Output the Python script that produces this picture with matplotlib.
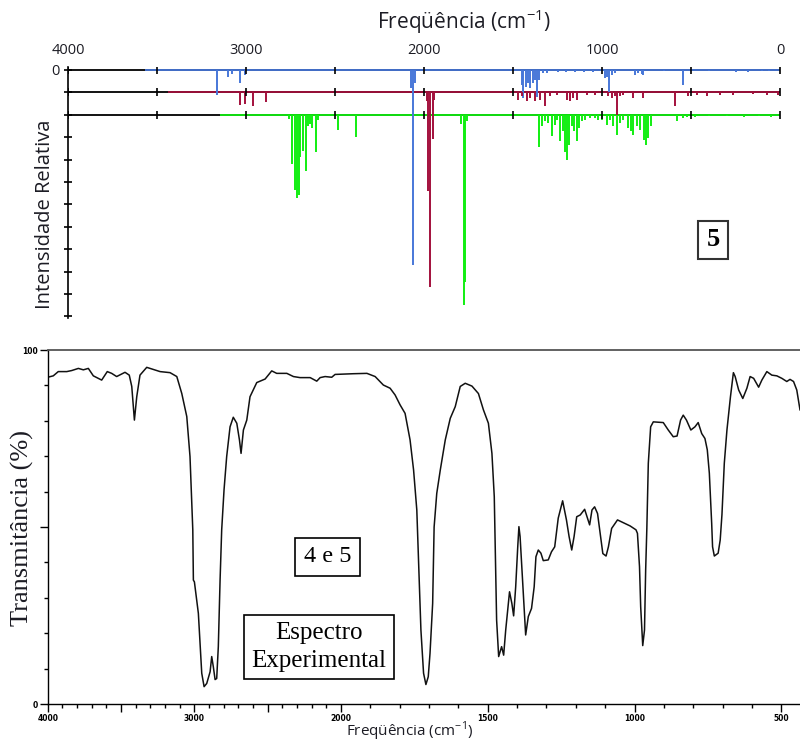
import numpy as np
import matplotlib.pyplot as plt
from matplotlib.ticker import FixedLocator, MultipleLocator

plt.rcParams['font.family'] = ['Open Sans', 'DejaVu Sans']
plt.rcParams['mathtext.fontset'] = 'custom'
plt.rcParams['mathtext.rm'] = 'Open Sans'
SERIF = 'Liberation Serif'
TXT = '#1c1c24'

# --- simulated spectra: stick positions (cm-1) and relative intensities ---
blue_start = 3568
blue_freq = [3165, 3101, 3079, 3034, 3006, 2075, 2060, 2048,
             1451, 1442, 1427, 1414, 1404, 1389, 1376, 1367, 1352, 1330, 1311,
             1250, 1200, 1150, 1100, 1050, 983, 974, 959, 945, 925,
             815, 800, 775, 768, 650, 543, 400, 250, 180, 100, 60]
blue_int = [1.12, 0.31, 0.18, 0.58, 0.22, 0.8, 8.7, 0.6,
            0.67, 1.26, 0.74, 0.6, 0.82, 0.6, 0.45, 1.19, 0.45, 0.15, 0.15,
            0.08, 0.08, 0.08, 0.1, 0.1, 0.37, 0.3, 0.97, 0.22, 0.15,
            0.22, 0.15, 0.2, 0.22, 0.05, 0.67, 0.05, 0.08, 0.08, 0.05, 0.06]

red_start = 3438
red_freq = [3034, 3006, 2961, 2888, 1985, 1975, 1966, 1952, 1945,
            1470, 1451, 1423, 1404, 1376, 1348, 1320, 1292, 1255, 1199, 1180,
            1161, 1142, 1086, 1039, 965, 945, 927, 917, 899, 880,
            824, 768, 590, 515, 468, 412, 337, 262, 150, 75, 10]
red_int = [0.58, 0.5, 0.62, 0.45, 0.4, 4.4, 8.7, 2.1, 0.35,
           0.33, 0.18, 0.4, 0.25, 0.4, 0.33, 0.63, 0.18, 0.1, 0.33, 0.4,
           0.25, 0.33, 0.1, 0.1, 0.18, 0.25, 0.18, 1.0, 0.18, 0.1,
           0.25, 0.25, 0.63, 0.18, 0.1, 0.18, 0.1, 0.1, 0.06, 0.1, 0.1]

green_start = 3146
green_freq = [2760, 2742, 2725, 2713, 2705, 2697, 2680, 2663, 2652, 2640, 2629,
              2607, 2596, 2483, 2382, 1790, 1775, 1770, 1760,
              1352, 1339, 1320, 1302, 1283, 1264, 1251, 1236, 1221, 1208, 1195,
              1184, 1170, 1157, 1142, 1129, 1114, 1096, 1067, 1039, 1021, 1002,
              974, 955, 936, 917, 899, 880, 852, 839, 824, 805, 787, 764, 753,
              740, 727, 579, 545, 520, 480, 400, 300, 200, 120, 50]
green_int = [0.2, 2.2, 3.35, 3.7, 3.6, 1.9, 1.6, 2.5, 0.5, 0.4, 0.6,
             1.65, 0.25, 0.67, 1.0, 0.4, 8.5, 7.45, 0.3,
             1.44, 0.52, 0.3, 0.37, 0.97, 0.45, 0.22, 1.19, 0.74, 1.64, 2.0,
             1.34, 0.52, 0.74, 1.19, 0.6, 0.3, 0.22, 0.15, 0.15, 0.22, 0.22,
             0.45, 0.22, 0.52, 0.89, 0.37, 0.22, 0.6, 0.74, 0.89, 0.52, 0.67, 1.12, 1.34,
             1.04, 0.52, 0.3, 0.15, 0.1, 0.08, 0.06, 0.05, 0.08, 0.05, 0.08]

# --- experimental IR spectrum: wavenumber (cm-1) vs transmittance (%) ---
exp_freq = [4000, 3962, 3928, 3870, 3836, 3791, 3757, 3723, 3689, 3632, 3594, 3564,
            3530, 3473, 3444, 3427, 3409, 3393, 3371, 3325, 3280, 3234, 3166, 3120,
            3086, 3052, 3030, 3018, 3011, 3007, 3000, 2973, 2950, 2934, 2916, 2893,
            2882, 2871, 2859, 2848, 2837, 2825, 2814, 2798, 2780, 2757, 2735, 2711,
            2693, 2682, 2666, 2643, 2621, 2575, 2518, 2473, 2439, 2370, 2325, 2280,
            2211, 2166, 2143, 2109, 2064, 2041, 1958, 1912, 1884, 1856, 1833, 1816,
            1799, 1782, 1765, 1753, 1742, 1728, 1719, 1711, 1703, 1697, 1688, 1683,
            1674, 1662, 1645, 1628, 1611, 1594, 1577, 1554, 1532, 1515, 1498, 1486,
            1478, 1470, 1463, 1453, 1446, 1439, 1431, 1426, 1418, 1412, 1405, 1398,
            1394, 1390, 1381, 1371, 1362, 1351, 1342, 1336, 1328, 1319, 1311, 1294,
            1283, 1272, 1260, 1245, 1232, 1223, 1214, 1206, 1197, 1185, 1170, 1162,
            1153, 1145, 1136, 1126, 1117, 1108, 1097, 1089, 1078, 1058, 1038, 1015,
            995, 990, 983, 979, 972, 966, 962, 958, 953, 945, 936, 902, 885, 868,
            855, 843, 834, 823, 808, 794, 783, 771, 760, 752, 745, 737, 734, 728,
            715, 708, 702, 694, 685, 673, 663, 657, 645, 631, 617, 606, 594, 577,
            566, 549, 532, 515, 498, 481, 470, 458, 447, 436]
exp_trans = [92.3, 92.7, 93.9, 93.9, 94.2, 94.8, 94.4, 94.8, 92.7, 91.5, 93.9, 93.4,
             92.5, 93.7, 92.9, 89.7, 80.2, 86.8, 92.9, 95.1, 94.5, 93.9, 93.6, 92.5,
             87.7, 81.2, 69.9, 56.8, 49.2, 35.0, 34.5, 25.6, 8.7, 4.9, 5.8, 9.1,
             13.4, 10.5, 6.9, 7.2, 16.2, 35.0, 49.2, 60.5, 69.9, 78.3, 81.0, 79.3,
             74.6, 70.8, 77.4, 80.2, 86.8, 90.8, 91.8, 94.1, 93.4, 93.4, 92.5, 92.2,
             92.2, 91.2, 92.2, 92.5, 92.3, 93.1, 93.3, 93.4, 92.5, 90.1, 89.2, 87.3,
             84.5, 82.1, 74.6, 66.1, 54.8, 20.9, 8.7, 5.5, 7.7, 14.3, 28.4, 50.0,
             59.5, 66.1, 74.6, 80.7, 84.0, 89.7, 90.6, 89.8, 87.7, 83.1, 79.3, 70.8,
             58.6, 23.7, 13.4, 16.2, 13.8, 20.9, 27.5, 31.7, 28.4, 24.9, 33.1, 44.4,
             50.1, 47.3, 34.0, 19.5, 24.7, 27.0, 33.1, 41.6, 43.5, 42.6, 40.5, 40.7,
             43.0, 44.4, 52.5, 57.4, 52.0, 47.3, 43.5, 47.3, 52.9, 53.4, 55.0, 52.9,
             50.6, 54.8, 55.7, 53.8, 48.2, 42.5, 41.8, 44.4, 49.6, 52.0, 51.2, 50.3,
             49.2, 48.2, 38.8, 27.5, 16.5, 20.9, 37.9, 49.6, 68.0, 78.3, 79.7, 79.5, 77.4, 75.5,
             75.7, 80.2, 81.6, 80.2, 77.4, 78.3, 79.5, 76.4, 75.0, 71.8, 65.2, 51.0, 44.4, 41.8,
             42.6, 46.3, 53.5, 68.0, 77.4, 86.8, 93.6, 92.5, 88.7, 86.3, 89.2, 92.5, 92.0, 89.5,
             91.5, 93.9, 92.9, 92.7, 92.0, 91.1, 91.7, 91.1, 88.7, 83.1]


def fwd(x):
    x = np.asarray(x, dtype=float)
    return np.where(x > 2000, 2000 + (x - 2000) / 2, x)


def inv(t):
    t = np.asarray(t, dtype=float)
    return np.where(t > 2000, 2000 + (t - 2000) * 2, t)


fig = plt.figure(figsize=(8, 7.44), dpi=100)

# ---------------- top: simulated spectra ----------------
ax1 = fig.add_axes([0.085, 0.5723, 0.89, 0.3382])
ax1.set_xlim(4000, 0)
ax1.set_ylim(-11.08, 0.15)
for s in ['top', 'right', 'bottom']:
    ax1.spines[s].set_visible(False)
ax1.spines['left'].set_linewidth(1.2)
ax1.set_yticks(range(0, -12, -1))
ax1.set_yticklabels(['0'] + [''] * 11)
ax1.tick_params(axis='y', direction='inout', length=6, width=1.2,
                labelsize=10.5, pad=3, labelcolor=TXT)
ax1.xaxis.tick_top()
ax1.set_xticks([4000, 3000, 2000, 1000, 0])
ax1.tick_params(axis='x', length=0, pad=6, labelsize=10.5, labelcolor=TXT)

series = [
    (blue_freq, blue_int, blue_start, 0, '#4777d8'),
    (red_freq, red_int, red_start, -1, '#a3103c'),
    (green_freq, green_int, green_start, -2, '#11ee11'),
]
tick_pos = np.arange(4000, -1, -500)
for freqs, ints, start, base, color in series:
    ax1.hlines(base, 4000, 0, color='black', lw=1.3, zorder=2)
    ax1.hlines(base, start, 0, color=color, lw=1.3, zorder=3)
    ax1.vlines(freqs, base, base - np.array(ints), color=color, lw=1.4, zorder=4)
    ax1.plot(tick_pos, np.full(len(tick_pos), base), ls='none', marker='|',
             ms=6, mew=1.2, color='black', zorder=5)

fig.text(0.58, 1 - 22 / 744, 'Freqüência (cm$^{-1}$)', ha='center', va='center',
         fontsize=15, color=TXT)
fig.text(45 / 800, 1 - 214 / 744, 'Intensidade Relativa', ha='center', va='center',
         rotation=90, fontsize=14.5, color=TXT)
fig.text(713 / 800, 1 - 240 / 744, '5', ha='center', va='center', family=SERIF,
         fontweight='bold', fontsize=19, color='black',
         bbox=dict(boxstyle='square,pad=0.3', fc='white', ec='#333333', lw=1.5))

# ---------------- bottom: experimental spectrum ----------------
ax2 = fig.add_axes([47.7 / 800, 1 - 704 / 744, 1 - 47.7 / 800, 354 / 744])
ax2.set_xscale('function', functions=(fwd, inv))
ax2.set_xlim(4000, 436)
ax2.set_ylim(0, 100)
ax2.plot(exp_freq, exp_trans, color='#111111', lw=1.1)

ax2.spines['right'].set_visible(False)
ax2.spines['top'].set_color('#555555')
ax2.spines['top'].set_linewidth(1.3)
for s in ['left', 'bottom']:
    ax2.spines[s].set_linewidth(1.0)

major_x = [4000, 3500, 3000, 2500, 2000, 1500, 1000, 500]
ax2.xaxis.set_major_locator(FixedLocator(major_x))
ax2.set_xticklabels(['4000', '', '3000', '', '2000', '1500', '1000', '500'])
ax2.xaxis.set_minor_locator(FixedLocator([f for f in range(4000, 499, -100)
                                          if f not in major_x]))
ax2.set_yticks([0, 50, 100])
ax2.set_yticklabels(['0', '', '100'])
ax2.yaxis.set_minor_locator(MultipleLocator(10))
ax2.tick_params(which='major', length=6, width=1, labelsize=5.5, pad=1)
ax2.tick_params(which='minor', length=3, width=1)
for lbl in ax2.get_xticklabels() + ax2.get_yticklabels():
    lbl.set_fontweight('bold')
    lbl.set_family('DejaVu Sans')

fig.text(410 / 800, 1 - 731 / 744, 'Freqüência (cm$^{-1}$)', ha='center', va='center',
         fontsize=11, color=TXT)
fig.text(22 / 800, 1 - 528 / 744, 'Transmitância (%)', ha='center', va='center',
         rotation=90, family=SERIF, fontsize=19, color=TXT)
fig.text(327.5 / 800, 1 - 557 / 744, '4 e 5', ha='center', va='center', family=SERIF,
         fontsize=17.5, color='black',
         bbox=dict(boxstyle='square,pad=0.35', fc='white', ec='black', lw=1.2))
fig.text(319 / 800, 1 - 647 / 744, 'Espectro\nExperimental', ha='center', va='center',
         family=SERIF, fontsize=18, linespacing=1.3, color='black',
         bbox=dict(boxstyle='square,pad=0.3', fc='white', ec='black', lw=1.2))

fig.savefig('out.png', dpi=100)
